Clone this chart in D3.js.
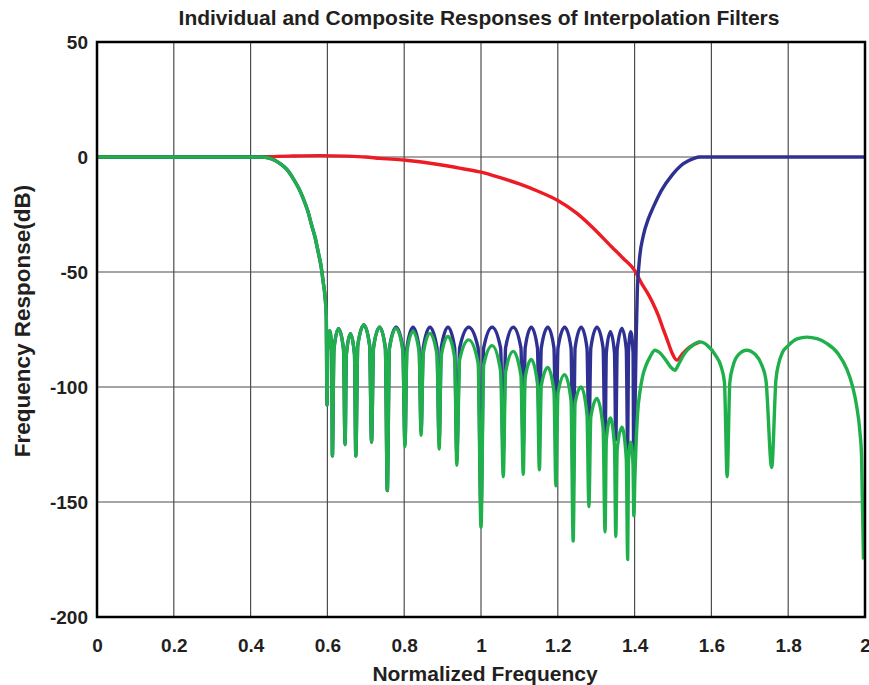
<!DOCTYPE html>
<html>
<head>
<meta charset="utf-8">
<script src="https://cdn.jsdelivr.net/npm/d3@7"></script>
<style>
  body { margin: 0; background: white; }
  text { font-family: "Liberation Sans", Arial, sans-serif; font-weight: bold; fill: #231f20; }
</style>
</head>
<body>
<svg></svg>
<script>
// tick values
var xTicks = [0, 0.2, 0.4, 0.6, 0.8, 1, 1.2, 1.4, 1.6, 1.8, 2];
var yTicks = [50, 0, -50, -100, -150, -200];

// red: second filter [freq, dB]
var redPts = [
  [0, 0], [0.2, 0], [0.43, 0.1], [0.5, 0.4], [0.58, 0.6], [0.65, 0.4], [0.7, 0],
  [0.737, -0.6], [0.8, -1.3], [0.85, -2.3], [0.91, -3.8], [0.95, -5], [1, -6.6],
  [1.05, -9], [1.1, -11.7], [1.15, -15], [1.2, -18.9], [1.25, -24.5], [1.29, -30.5],
  [1.34, -39], [1.37, -44], [1.4, -49.3], [1.42, -55.5], [1.435, -59.5], [1.449, -64],
  [1.462, -69], [1.474, -74.6], [1.485, -79.5], [1.497, -85], [1.51, -88.3],
  [1.525, -85.5], [1.544, -82.6], [1.57, -80.4]
];

// blue: first filter with its image
var bluePts = [
  [0, 0], [0.2, 0], [0.4, 0], [0.43, 0], [0.455, -0.8], [0.477, -2.9], [0.495, -5.5],
  [0.511, -9.4], [0.525, -13.5], [0.537, -18], [0.549, -23.5], [0.559, -29.7],
  [0.568, -35], [0.576, -41.3], [0.583, -47], [0.589, -54.3], [0.594, -61], [0.597, -68.8],
  [0.599, -108], [0.6007, -84.5], [0.606, -75.5], [0.6113, -84.5],
  [0.613, -130], [0.617, -83.6], [0.629, -74.6], [0.642, -83.6],
  [0.646, -125], [0.6494, -85.8], [0.66, -76.8], [0.6706, -85.8],
  [0.674, -130], [0.679, -82], [0.695, -73], [0.71, -82],
  [0.715, -124], [0.72, -83], [0.736, -74], [0.751, -83],
  [0.756, -145], [0.7615, -83], [0.779, -74], [0.7965, -83],
  [0.802, -125], [0.807, -83], [0.823, -74], [0.839, -83],
  [0.844, -119], [0.8496, -83], [0.867, -74], [0.8854, -83],
  [0.891, -123.5], [0.8965, -83], [0.914, -74], [0.9315, -83],
  [0.937, -129], [0.9445, -83], [0.968, -74], [0.9925, -83],
  [1.0, -154], [1.007, -83], [1.029, -74], [1.051, -83],
  [1.058, -129], [1.064, -83], [1.084, -74], [1.104, -83],
  [1.11, -126], [1.115, -83], [1.131, -74], [1.147, -83],
  [1.152, -121], [1.157, -83], [1.174, -74], [1.19, -83],
  [1.195, -125], [1.2005, -83], [1.218, -74], [1.2345, -83],
  [1.24, -145], [1.245, -83], [1.261, -74], [1.276, -83],
  [1.281, -124], [1.286, -83], [1.302, -74], [1.318, -83],
  [1.323, -128], [1.3264, -85], [1.337, -76], [1.3476, -85],
  [1.351, -123], [1.3547, -83.5], [1.367, -74.5], [1.3783, -83.5],
  [1.382, -128], [1.384, -85], [1.39, -76], [1.396, -85],
  [1.398, -150], [1.401, -110], [1.404, -80], [1.407, -58.7], [1.412, -45.7],
  [1.423, -34], [1.436, -26.8], [1.449, -21.7], [1.47, -14.5], [1.497, -8],
  [1.527, -2.9], [1.553, -0.7], [1.57, 0], [1.6, 0], [2, 0]
];

// green: composite response
var greenPts = [
  [0, 0], [0.2, 0], [0.4, 0], [0.43, 0], [0.455, -0.8], [0.477, -2.9], [0.495, -5.5],
  [0.511, -9.4], [0.525, -13.5], [0.537, -18], [0.549, -23.5], [0.559, -29.7],
  [0.568, -35], [0.576, -41.3], [0.583, -47], [0.589, -54.3], [0.594, -61], [0.597, -68.8],
  [0.599, -108], [0.6007, -84.5], [0.606, -75.5], [0.6113, -84.5],
  [0.613, -130], [0.617, -83.6], [0.629, -74.6], [0.642, -83.6],
  [0.646, -125], [0.6494, -85.8], [0.66, -76.8], [0.6706, -85.8],
  [0.674, -130], [0.679, -82], [0.695, -73], [0.71, -82],
  [0.715, -124], [0.72, -83], [0.736, -74], [0.751, -83.5],
  [0.756, -145], [0.7615, -83.5], [0.779, -74.5], [0.7965, -84.5],
  [0.802, -126], [0.807, -84.8], [0.823, -75.8], [0.839, -85],
  [0.844, -121], [0.8496, -85.5], [0.867, -76.7], [0.8854, -86],
  [0.891, -127], [0.8965, -86.5], [0.914, -78], [0.9315, -87.5],
  [0.937, -134], [0.9445, -88], [0.968, -79.5], [0.9925, -89.5],
  [1.0, -161], [1.007, -90.5], [1.029, -82], [1.051, -93],
  [1.058, -139], [1.064, -93.5], [1.084, -84.5], [1.104, -95],
  [1.11, -138], [1.115, -96], [1.131, -88], [1.147, -98.5],
  [1.152, -136], [1.157, -99.5], [1.174, -91.5], [1.19, -102],
  [1.195, -143], [1.2005, -102.5], [1.218, -94.6], [1.2345, -106],
  [1.24, -167], [1.245, -107], [1.261, -100], [1.276, -112],
  [1.281, -152], [1.286, -113], [1.302, -105], [1.318, -118],
  [1.323, -163], [1.3264, -123], [1.337, -113.5], [1.3476, -125.5],
  [1.351, -165], [1.3547, -127], [1.367, -117.5], [1.3783, -131],
  [1.382, -175], [1.384, -132.5], [1.39, -124], [1.396, -134],
  [1.398, -156], [1.401, -138], [1.404, -124], [1.408, -111], [1.414, -102],
  [1.42, -96], [1.43, -90.5], [1.44, -87], [1.453, -84], [1.465, -85], [1.48, -88],
  [1.495, -91.5], [1.505, -92.7], [1.515, -90], [1.53, -85.5], [1.55, -82],
  [1.57, -80.4], [1.59, -82], [1.61, -86], [1.625, -91], [1.634, -98],
  [1.641, -139], [1.648, -98], [1.656, -91], [1.67, -86], [1.692, -84],
  [1.715, -86], [1.73, -90], [1.742, -97], [1.757, -135], [1.768, -97],
  [1.775, -90], [1.785, -85], [1.8, -82], [1.825, -79], [1.848, -78.3],
  [1.875, -79], [1.9, -81], [1.93, -85.5], [1.952, -92], [1.968, -100],
  [1.978, -108], [1.987, -120], [1.991, -130], [1.996, -175]
];

var margin = {top: 42, right: 4, bottom: 68, left: 97},
    width = 869 - margin.left - margin.right,
    height = 685 - margin.top - margin.bottom;

var svg = d3.select('svg')
    .attr('width', 869)
    .attr('height', 685);

var g = svg.append('g')
    .attr('transform', 'translate(' + margin.left + ',' + margin.top + ')');

var x = d3.scaleLinear().domain([0, 2]).range([0, width]);
var y = d3.scaleLinear().domain([-200, 50]).range([height, 0]);

// grid
g.append('g')
    .selectAll('line')
    .data(xTicks)
    .enter().append('line')
    .attr('x1', function(d) { return x(d); })
    .attr('x2', function(d) { return x(d); })
    .attr('y1', 0)
    .attr('y2', height)
    .attr('stroke', '#4d4d4d')
    .attr('stroke-width', 1.2);

g.append('g')
    .selectAll('line')
    .data(yTicks)
    .enter().append('line')
    .attr('x1', 0)
    .attr('x2', width)
    .attr('y1', function(d) { return y(d); })
    .attr('y2', function(d) { return y(d); })
    .attr('stroke', '#4d4d4d')
    .attr('stroke-width', 1.2);

var line = d3.line()
    .x(function(d) { return x(d[0]); })
    .y(function(d) { return y(d[1]); })
    .curve(d3.curveMonotoneX);

var series = [
  {pts: redPts, color: '#ed1c24'},
  {pts: bluePts, color: '#2e3192'},
  {pts: greenPts, color: '#1fb04b'}
];

g.selectAll('.curve')
    .data(series)
    .enter().append('path')
    .attr('class', 'curve')
    .attr('d', function(d) { return line(d.pts); })
    .attr('fill', 'none')
    .attr('stroke', function(d) { return d.color; })
    .attr('stroke-width', 3.4)
    .attr('stroke-linejoin', 'round');

// frame
g.append('rect')
    .attr('width', width)
    .attr('height', height)
    .attr('fill', 'none')
    .attr('stroke', '#000')
    .attr('stroke-width', 2.5);

// plain hyphen minus like the original
var fmt = function(d) { return String(d); };

var xAxis = g.append('g')
    .attr('transform', 'translate(0,' + height + ')')
    .call(d3.axisBottom(x).tickValues(xTicks).tickFormat(fmt).tickSize(0).tickPadding(22));
xAxis.select('.domain').remove();
xAxis.selectAll('text').style('font-size', '19px').attr('fill', '#231f20');

var yAxis = g.append('g')
    .call(d3.axisLeft(y).tickValues(yTicks).tickFormat(fmt).tickSize(0).tickPadding(9));
yAxis.select('.domain').remove();
yAxis.selectAll('text').style('font-size', '19px').attr('fill', '#231f20');

svg.append('text')
    .attr('x', 479)
    .attr('y', 25)
    .attr('text-anchor', 'middle')
    .style('font-size', '21px')
    .text('Individual and Composite Responses of Interpolation Filters');

svg.append('text')
    .attr('x', 485)
    .attr('y', 681)
    .attr('text-anchor', 'middle')
    .style('font-size', '21px')
    .text('Normalized Frequency');

svg.append('text')
    .attr('transform', 'translate(30,321) rotate(-90)')
    .attr('text-anchor', 'middle')
    .style('font-size', '22.5px')
    .text('Frequency Response(dB)');
</script>
</body>
</html>
